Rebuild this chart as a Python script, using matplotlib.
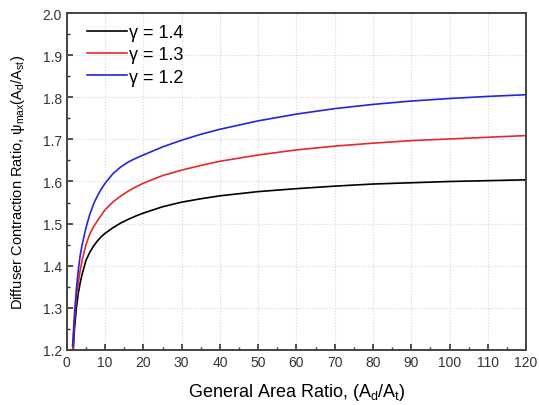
import matplotlib

matplotlib.use("Agg")
import matplotlib.pyplot as plt
from matplotlib.ticker import MultipleLocator

#####################################################
# DATA
#####################################################

area_ratio = [1.5, 2, 2.5, 3, 3.5, 4, 5, 6, 7, 8, 9, 10, 12, 14, 16, 18, 20, 25, 30, 35, 40,
              50, 60, 70, 80, 90, 100, 110, 120]

psi_gamma_14 = [1.17, 1.25, 1.30, 1.335, 1.36, 1.38, 1.413, 1.432, 1.447, 1.459, 1.469, 1.477,
                1.490, 1.501, 1.510, 1.518, 1.525, 1.540, 1.551, 1.559, 1.566,
                1.576, 1.583, 1.589, 1.594, 1.597, 1.600, 1.602, 1.604]
psi_gamma_13 = [1.19, 1.27, 1.325, 1.36, 1.39, 1.413, 1.45, 1.475, 1.493, 1.507, 1.520, 1.533,
                1.551, 1.565, 1.577, 1.587, 1.596, 1.614, 1.627, 1.638, 1.648,
                1.663, 1.675, 1.684, 1.691, 1.697, 1.701, 1.705, 1.709]
psi_gamma_12 = [1.21, 1.285, 1.345, 1.39, 1.425, 1.45, 1.49, 1.522, 1.547, 1.566, 1.582, 1.596,
                1.618, 1.634, 1.646, 1.655, 1.663, 1.682, 1.698, 1.712, 1.724,
                1.744, 1.760, 1.773, 1.783, 1.791, 1.797, 1.802, 1.806]

series = [
    ("\u03b3 = 1.4", psi_gamma_14, "black"),
    ("\u03b3 = 1.3", psi_gamma_13, "#e8262b"),
    ("\u03b3 = 1.2", psi_gamma_12, "#2424e0"),
]

#####################################################
# PLOT
#####################################################

plt.rcParams["font.family"] = ["Liberation Sans", "DejaVu Sans"]
plt.rcParams["mathtext.fontset"] = "custom"
plt.rcParams["mathtext.rm"] = "Liberation Sans"
plt.rcParams["mathtext.it"] = "Liberation Sans"

fig = plt.figure(figsize=(5.39, 4.06), dpi=100)
ax = fig.add_axes([0.124, 0.1355, 0.852, 0.83])

for label, values, color in series:
    ax.plot(area_ratio, values, color=color, lw=1.2, label=label)

ax.set_xlim(0, 120)
ax.set_ylim(1.2, 2.0)
ax.xaxis.set_major_locator(MultipleLocator(10))
ax.xaxis.set_minor_locator(MultipleLocator(5))
ax.yaxis.set_major_locator(MultipleLocator(0.1))
ax.yaxis.set_minor_locator(MultipleLocator(0.05))
ax.yaxis.set_major_formatter(lambda v, p: f"{v:.1f}")

ax.tick_params(which="both", direction="in", top=False, right=False, labelsize=10, colors="#333333")
ax.tick_params(which="major", length=4, width=1.2)
ax.tick_params(which="minor", length=2.5, width=1.0)
for s in ax.spines.values():
    s.set_linewidth(1.4)
    s.set_color("#444444")

ax.grid(True, which="major", color="#d6d6d6", linestyle=":", linewidth=0.8)

ax.set_xlabel("General Area Ratio, (A$_{d}$/A$_{t}$)", fontsize=13, labelpad=9)
ax.set_ylabel("Diffuser Contraction Ratio, \u03c8$_{max}$(A$_{d}$/A$_{st}$)", fontsize=10.5, labelpad=11)

ax.legend(loc="upper left", frameon=False, fontsize=13, handlelength=2.2,
          handletextpad=0.15, labelspacing=0.3, borderaxespad=0.2, bbox_to_anchor=(0.02, 1.0))

fig.savefig("out.png", dpi=100)
plt.close()
